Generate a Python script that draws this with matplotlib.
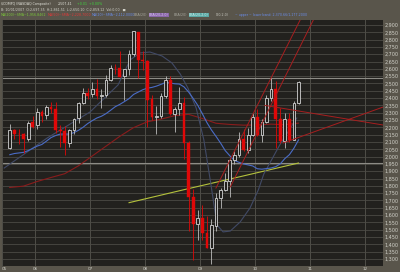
import matplotlib
matplotlib.use("Agg")
import matplotlib.pyplot as plt
import numpy as np

# ---------------- data (NASDAQ Composite, monthly) ----------------
start_year, start_month = 2005, 7
opens = [2057, 2185, 2153, 2153, 2121, 2234,
         2217, 2307, 2282, 2341, 2326, 2180, 2173, 2092, 2185, 2261, 2367, 2432,
         2430, 2464, 2417, 2422, 2524, 2605, 2605, 2549, 2597, 2702, 2852, 2661,
         2654, 2391, 2270, 2281, 2413, 2523, 2294, 2326, 2368, 2092, 1721, 1536,
         1579, 1477, 1378, 1525, 1717, 1775, 1835, 1979, 2009, 2122, 2045, 2145,
         2269, 2147, 2238, 2398, 2461, 2257, 2109, 2255, 2114, 2369]
highs = [2220, 2191, 2186, 2159, 2244, 2278,
         2333, 2317, 2356, 2376, 2371, 2216, 2210, 2190, 2265, 2375, 2468, 2471,
         2509, 2531, 2459, 2561, 2625, 2635, 2725, 2600, 2726, 2862, 2852, 2724,
         2662, 2419, 2346, 2433, 2552, 2550, 2341, 2473, 2410, 2107, 1781, 1634,
         1666, 1591, 1574, 1749, 1785, 1888, 1989, 2040, 2168, 2191, 2197, 2296,
         2326, 2260, 2423, 2535, 2519, 2330, 2300, 2298, 2382, 2519]
lows = [2053, 2118, 2085, 2026, 2110, 2198,
        2190, 2239, 2255, 2296, 2158, 2065, 2013, 2065, 2156, 2231, 2358, 2394,
        2405, 2391, 2332, 2408, 2516, 2568, 2545, 2387, 2555, 2686, 2540, 2595,
        2202, 2252, 2155, 2266, 2400, 2285, 2168, 2286, 1984, 1493, 1295, 1428,
        1433, 1373, 1266, 1488, 1650, 1765, 1725, 1950, 1994, 2036, 2024, 2144,
        2139, 2100, 2230, 2380, 2061, 2090, 2061, 2101, 2113, 2359]
closes = [2185, 2152, 2152, 2120, 2233, 2205,
          2306, 2281, 2340, 2323, 2179, 2172, 2091, 2184, 2258, 2367, 2432, 2415,
          2464, 2416, 2422, 2525, 2605, 2603, 2546, 2596, 2702, 2859, 2661, 2652,
          2390, 2271, 2279, 2413, 2523, 2293, 2326, 2368, 2092, 1721, 1536, 1577,
          1476, 1378, 1529, 1717, 1774, 1835, 1979, 2009, 2122, 2045, 2145, 2269,
          2147, 2238, 2398, 2461, 2257, 2109, 2255, 2114, 2369, 2507]

# MA(20) (same months as candles)
ma20 = [2013, 2021, 2025, 2029, 2041, 2056,
        2072, 2083, 2106, 2130, 2144, 2154, 2154, 2154, 2164, 2180, 2201, 2226,
        2246, 2264, 2276, 2294, 2317, 2341, 2357, 2376, 2396, 2425, 2441, 2457,
        2468, 2473, 2482, 2494, 2507, 2503, 2498, 2496, 2477, 2442, 2398, 2351,
        2294, 2233, 2182, 2138, 2092, 2041, 2006, 1974, 1961, 1950, 1943, 1936,
        1917, 1914, 1918, 1922, 1931, 1950, 1986, 2013, 2058, 2114]

# MA(50) read at a few dates
ma50_t = [2005.54, 2005.79, 2006.04, 2006.29, 2006.54, 2006.79, 2007.04, 2007.29,
          2007.54, 2007.79, 2008.04, 2008.29, 2008.54, 2008.79, 2009.04, 2009.29,
          2009.54, 2009.79, 2010.04, 2010.29, 2010.54, 2010.79]
ma50_v = [1789, 1798, 1830, 1857, 1883, 1937, 2004, 2071,
          2138, 2198, 2238, 2256, 2280, 2289, 2261, 2228,
          2220, 2215, 2216, 2222, 2218, 2229]

# MA(200)
ma200_t = [2007.71, 2008.79, 2009.79, 2010.79]
ma200_v = [1685, 1781, 1868, 1956]

# band-like slate line
band_t = [2005.44, 2006.22, 2007.00, 2007.51, 2007.73, 2007.91, 2008.09, 2008.31,
          2008.49, 2008.64, 2008.78, 2008.93, 2009.07, 2009.20, 2009.31, 2009.42,
          2009.55, 2009.73, 2009.91, 2010.06, 2010.16, 2010.45, 2010.76]
band_v = [1922, 2127, 2305, 2490, 2661, 2709, 2715, 2688,
          2640, 2565, 2469, 2332, 2114, 1806, 1532, 1485,
          1491, 1553, 1649, 1772, 1881, 2080, 2264]

# trend lines (start/end)
trend_lines = [
    ([2009.29, 2010.82], [1785, 2934]),
    ([2009.55, 2011.06], [1792, 2934]),
    ([2010.51, 2012.33], [2093, 2339]),
    ([2010.18, 2012.33], [2350, 2216]),
]
hlines = [2538, 1956]

yticks = list(range(1300, 2901, 50))
xtick_pos = [2005.45, 2006, 2007, 2008, 2009, 2010, 2011, 2012]
xtick_lab = ['05', '06', '07', '08', '09', '10', '11', '12']

# ---------------- style ----------------
FIG_BG = '#59554b'
AX_BG = '#22211e'
GRID = '#44433e'
VGRID = '#4d4c46'
TXT = '#d2d2ca'
UP_EDGE = '#d4d4d4'
DN = '#e00808'

fig = plt.figure(figsize=(4.0, 2.72), dpi=100, facecolor=FIG_BG)
ax = fig.add_axes([2 / 400, 1 - 266 / 272, 381 / 400, 246 / 272])
ax.set_facecolor(AX_BG)
ax.set_xlim(2005.40, 2012.327)
ax.set_ylim(1252, 2934)

for v in yticks:
    ax.axhline(v, color=GRID, lw=0.75, zorder=0)
for xv in xtick_pos[1:]:
    ax.axvline(xv, color=VGRID, lw=0.75, zorder=0)
for hv in hlines:
    ax.axhline(hv, color='#8d8c86', lw=0.8, zorder=1)

n = len(closes)
t = np.array([start_year + (start_month - 1 + i) / 12 + 1 / 24 for i in range(n)])
o = np.array(opens); h = np.array(highs); l = np.array(lows); c = np.array(closes)
up = c >= o

# indicator lines
ax.plot(ma200_t, ma200_v, color='#b4c23c', lw=0.8, zorder=2)
ax.plot(ma50_t, ma50_v, color='#8a1c1c', lw=0.8, zorder=2)
ax.plot(band_t, band_v, color='#414a66', lw=0.8, zorder=2)
ax.plot(t, ma20, color='#4a6cc6', lw=0.8, zorder=2)

# candles
w = 0.05
ax.vlines(t[up], l[up], h[up], color='#bdbdbd', lw=0.6, zorder=3)
ax.vlines(t[~up], l[~up], h[~up], color=DN, lw=0.6, zorder=3)
body_lo = np.minimum(o, c)
body_h = np.maximum(np.abs(c - o), 4)
ax.bar(t[up], body_h[up], bottom=body_lo[up], width=w, facecolor=AX_BG,
       edgecolor=UP_EDGE, linewidth=0.6, zorder=4)
ax.bar(t[~up], body_h[~up], bottom=body_lo[~up], width=w, facecolor=DN,
       edgecolor=DN, linewidth=0.3, zorder=4)

for xs, ys in trend_lines:
    ax.plot(xs, ys, color='#a81e1e', lw=0.7, zorder=5)

# axes / ticks
ax.yaxis.tick_right()
ax.set_yticks(yticks)
ax.set_yticklabels([f"{v:,}" for v in yticks], fontsize=3.5, color=TXT)
ax.tick_params(axis='y', length=0, pad=1.2)
ax.set_xticks(xtick_pos)
ax.set_xticklabels(xtick_lab, fontsize=3.0, color=TXT)
ax.tick_params(axis='x', length=0, pad=0.6)
for s in ['top', 'right', 'bottom']:
    ax.spines[s].set_visible(False)
ax.spines['left'].set_color(VGRID)
ax.spines['left'].set_linewidth(0.75)

# header texts
fs = 2.3
def ftxt(x, y, s, col, **kw):
    fig.text(x / 400, 1 - y / 272, s, fontsize=fs, color=col, va='center', ha='left',
             family=['Liberation Sans Narrow', 'DejaVu Sans'], **kw)

ftxt(1, 4, "$COMPQ (NASDAQ Composite)", '#e0e0d8')
ftxt(58, 4, "2,507.41", '#e0e0d8')
ftxt(77, 4, "+0.01  +0.00%", '#3ed23e')
ftxt(1, 9.5, "B: 10/01/2007  O:2,697.35  H:2,861.51  L:2,650.10  C:2,859.12  Vol:0.00   \u25a0", '#d0d0c8')
ftxt(1, 15, "MA(200)~SMA~1,956.8462", '#7bc83a')
ftxt(48, 15, "MA(50)~SMA~2,228.7000", '#e03a3a')
ftxt(92, 15, "MA(20)~SMA~2,112.0000", '#6a8ce8')
ftxt(134, 15, "BBA(20)", '#a8a8a0')
ftxt(149, 15, "BBA(20,2.0)", '#d8c8f0',
     bbox=dict(boxstyle='square,pad=0.15', facecolor='#8a66a8', edgecolor='none'))
ftxt(174, 15, "BBA(20)", '#a8a8a0')
ftxt(189, 15, "BBA(20,2.0)", '#d0f0ee',
     bbox=dict(boxstyle='square,pad=0.15', facecolor='#5aa8a4', edgecolor='none'))
ftxt(216, 15, "(20,2.0)", '#c8c8c0')
ftxt(235, 15, "~ upper ~ lower band: 2,370.66/1,177.2000", '#6a8ce8')

fig.savefig("out.png", dpi=100, facecolor=FIG_BG)
